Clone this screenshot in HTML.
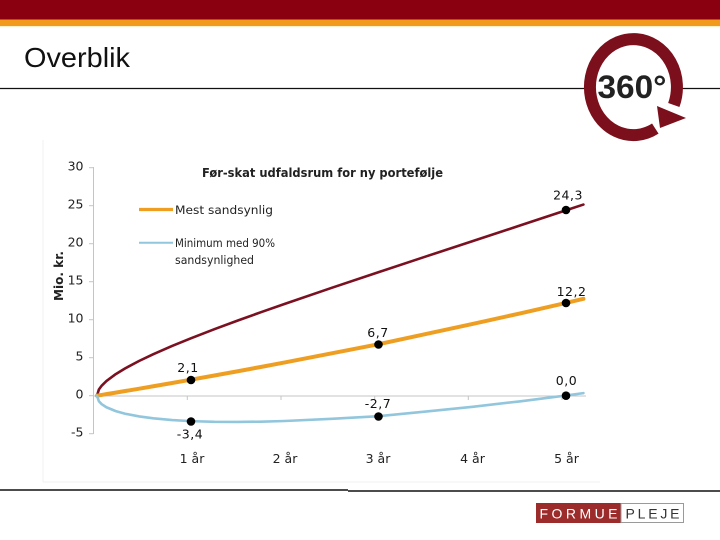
<!DOCTYPE html>
<html>
<head>
<meta charset="utf-8">
<style>
html,body{margin:0;padding:0;background:#fff;}
svg{display:block;}
</style>
</head>
<body>
<svg width="720" height="540" viewBox="0 0 720 540" xmlns="http://www.w3.org/2000/svg">
  <!-- top bars -->
  <rect x="0" y="0" width="720" height="19.5" fill="#8a0011"/>
  <rect x="0" y="19.5" width="720" height="6.5" fill="#f29a1c"/>
  <rect x="0" y="26" width="720" height="1.2" fill="#fbf0c8"/>

  <!-- title -->
  <text x="24" y="67" font-family="Liberation Sans, sans-serif" font-size="28" fill="#111" textLength="106" lengthAdjust="spacingAndGlyphs">Overblik</text>
  <line x1="0" y1="88.5" x2="720" y2="88.5" stroke="#111" stroke-width="1.3"/>

  <!-- 360 logo -->
  <ellipse cx="633.5" cy="87" rx="48" ry="53" fill="#fff"/>
  <path d="M 655.3 128.6 A 43.5 48 0 1 1 673.8 105" fill="none" stroke="#7c0f1c" stroke-width="12"/>
  <polygon points="657,106 686,118 660,128" fill="#7c0f1c"/>
  <text x="632" y="98" text-anchor="middle" font-family="Liberation Sans, sans-serif" font-weight="bold" font-size="32" fill="#222" textLength="69" lengthAdjust="spacingAndGlyphs">360°</text>

  <!-- faint chart frame -->
  <line x1="43" y1="140" x2="43" y2="482" stroke="#f1f1f1" stroke-width="1"/>
  <line x1="43" y1="482" x2="600" y2="482" stroke="#f1f1f1" stroke-width="1"/>

  <!-- chart title -->
  <text x="202" y="177" font-family="DejaVu Sans, Liberation Sans, sans-serif" font-weight="bold" font-size="12.5" fill="#222" textLength="241" lengthAdjust="spacingAndGlyphs">Før-skat udfaldsrum for ny portefølje</text>

  <!-- axes -->
  <g stroke="#c4c4c4" stroke-width="1">
    <line x1="93.5" y1="167" x2="93.5" y2="434"/>
    <line x1="89" y1="167.7" x2="93.5" y2="167.7"/>
    <line x1="89" y1="205.7" x2="93.5" y2="205.7"/>
    <line x1="89" y1="243.7" x2="93.5" y2="243.7"/>
    <line x1="89" y1="281.7" x2="93.5" y2="281.7"/>
    <line x1="89" y1="319.7" x2="93.5" y2="319.7"/>
    <line x1="89" y1="357.7" x2="93.5" y2="357.7"/>
    <line x1="89" y1="395.7" x2="93.5" y2="395.7"/>
    <line x1="89" y1="433.7" x2="93.5" y2="433.7"/>
    <line x1="93.5" y1="396" x2="586" y2="396"/>
    <line x1="187.3" y1="396" x2="187.3" y2="400"/>
    <line x1="281" y1="396" x2="281" y2="400"/>
    <line x1="374.7" y1="396" x2="374.7" y2="400"/>
    <line x1="468.3" y1="396" x2="468.3" y2="400"/>
    <line x1="562" y1="396" x2="562" y2="400"/>
  </g>

  <!-- y tick labels -->
  <g font-family="DejaVu Sans, Liberation Sans, sans-serif" font-size="12.5" fill="#222" text-anchor="end">
    <text x="83.5" y="170.5">30</text>
    <text x="83.5" y="208.5">25</text>
    <text x="83.5" y="246.5">20</text>
    <text x="83.5" y="284.5">15</text>
    <text x="83.5" y="322.5">10</text>
    <text x="83.5" y="360.5">5</text>
    <text x="83.5" y="398.5">0</text>
    <text x="83.5" y="436.5">-5</text>
  </g>

  <!-- y axis label -->
  <text transform="translate(63,276) rotate(-90)" text-anchor="middle" font-family="DejaVu Sans, Liberation Sans, sans-serif" font-weight="bold" font-size="12.5" fill="#222" textLength="50" lengthAdjust="spacingAndGlyphs">Mio. kr.</text>

  <!-- x labels -->
  <g font-family="DejaVu Sans, Liberation Sans, sans-serif" font-size="12.5" fill="#222" text-anchor="middle">
    <text x="192" y="463">1 år</text>
    <text x="285" y="463">2 år</text>
    <text x="378" y="463">3 år</text>
    <text x="472.5" y="463">4 år</text>
    <text x="566.5" y="463">5 år</text>
  </g>

  <!-- legend -->
  <line x1="139" y1="209.5" x2="173" y2="209.5" stroke="#ee9f22" stroke-width="3.2"/>
  <line x1="139" y1="242.8" x2="173" y2="242.8" stroke="#92c6dd" stroke-width="2"/>
  <g font-family="DejaVu Sans, Liberation Sans, sans-serif" font-size="11.5" fill="#222">
    <text x="175" y="214" textLength="98" lengthAdjust="spacingAndGlyphs">Mest sandsynlig</text>
    <text x="175" y="247" textLength="100" lengthAdjust="spacingAndGlyphs">Minimum med 90%</text>
    <text x="175" y="264" textLength="79" lengthAdjust="spacingAndGlyphs">sandsynlighed</text>
  </g>

  <!-- series -->
  <polyline fill="none" stroke="#7b1020" stroke-width="2.6" stroke-linejoin="round" stroke-linecap="round"
    points="97,395.7 98.88,389.54 101.7,385.67 106.39,381.06 115.78,374.09 125.17,368.35 139.26,360.88 153.34,354.17 172.12,345.97 190.9,338.28 214.38,329.19 237.85,320.49 261.33,312.06 284.8,303.84 331.75,287.8 378.7,272.09 425.65,256.57 472.6,241.12 519.55,225.67 566.5,210.17 583.4,204.57"/>
  <polyline fill="none" stroke="#ee9f22" stroke-width="4" stroke-linejoin="round" stroke-linecap="round"
    points="97,395.7 98.88,395.39 101.7,394.93 106.39,394.16 115.78,392.61 125.17,391.03 139.26,388.66 153.34,386.25 172.12,383.01 190.9,379.7 214.38,375.5 237.85,371.22 261.33,366.86 284.8,362.41 331.75,353.28 378.7,344.2 425.65,334.06 472.6,323.96 519.55,313.54 566.5,302.79 583.4,298.84"/>
  <polyline fill="none" stroke="#92c6dd" stroke-width="2.6" stroke-linejoin="round" stroke-linecap="round"
    points="97,395.7 98.88,401.26 101.7,404.2 106.39,407.25 115.78,411.13 125.17,413.72 139.26,416.45 153.34,418.34 172.12,420.05 190.9,421.12 214.38,421.81 237.85,421.95 261.33,421.65 284.8,420.99 331.75,418.77 378.7,416.2 425.65,411.55 472.6,406.8 519.55,401.4 566.5,395.41 583.4,393.11"/>

  <!-- markers -->
  <g fill="#000">
    <circle cx="191" cy="380" r="4.3"/>
    <circle cx="191" cy="421.5" r="4.3"/>
    <circle cx="378.5" cy="344.5" r="4.3"/>
    <circle cx="378.5" cy="416.5" r="4.3"/>
    <circle cx="566" cy="210" r="4.3"/>
    <circle cx="566" cy="303" r="4.3"/>
    <circle cx="566" cy="395.7" r="4.3"/>
  </g>

  <!-- data labels -->
  <g font-family="DejaVu Sans, Liberation Sans, sans-serif" font-size="12.5" fill="#111" text-anchor="middle" letter-spacing="0.5">
    <text x="188" y="372">2,1</text>
    <text x="190" y="438.5">-3,4</text>
    <text x="378" y="337">6,7</text>
    <text x="378" y="408">-2,7</text>
    <text x="568" y="199.5">24,3</text>
    <text x="571.5" y="296">12,2</text>
    <text x="566.5" y="385">0,0</text>
  </g>

  <!-- bottom line -->
  <line x1="0" y1="490" x2="348" y2="490" stroke="#111" stroke-width="1.4"/>
  <line x1="348" y1="491" x2="720" y2="491" stroke="#111" stroke-width="1.4"/>

  <!-- FORMUE PLEJE logo -->
  <rect x="536" y="503" width="85" height="20" fill="#9c2b2b"/>
  <rect x="621" y="503.5" width="62.5" height="19" fill="#fff" stroke="#9a9a9a" stroke-width="1"/>
  <text x="578.5" y="518.5" text-anchor="middle" font-family="Liberation Sans, sans-serif" font-size="14" fill="#fff" textLength="78" lengthAdjust="spacing">FORMUE</text>
  <text x="652.5" y="518.5" text-anchor="middle" font-family="Liberation Sans, sans-serif" font-size="14" fill="#333" textLength="54" lengthAdjust="spacing">PLEJE</text>
</svg>
</body>
</html>
